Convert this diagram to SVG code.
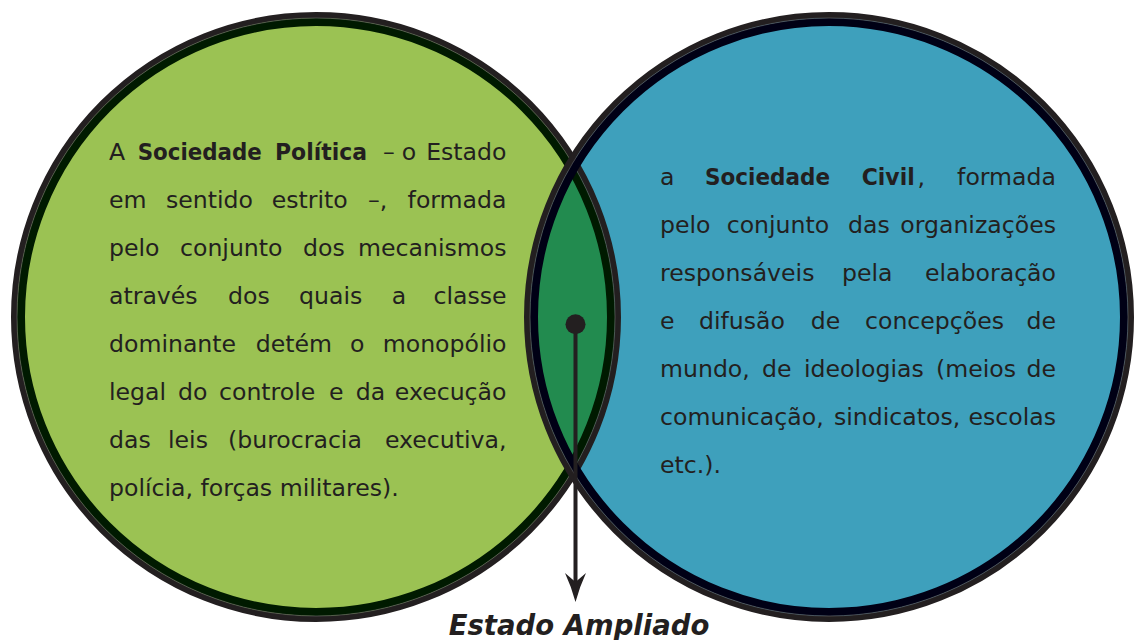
<svg xmlns="http://www.w3.org/2000/svg" width="1135" height="640" viewBox="0 0 1135 640">
  <style>
    .t { font-family: "DejaVu Sans", "Liberation Sans", sans-serif; font-size: 23.6px; fill: #231f20; }
    .b { font-weight: bold; }
    .e { text-anchor: end; }
    .outer { fill: none; stroke: #231f20; stroke-width: 6; }
    .sep { fill: none; stroke: #6f6f6f; stroke-width: 0.6; }
    .label { font-family: "DejaVu Sans", "Liberation Sans", sans-serif; font-size: 27.5px; font-weight: bold; font-style: italic; fill: #231f20; text-anchor: middle; }
  </style>
  <defs>
    <clipPath id="clipLeft"><circle cx="316" cy="317" r="299"/></clipPath>
    <marker id="arrow" viewBox="0 0 29 22" markerWidth="29" markerHeight="22" refX="9" refY="11" markerUnits="userSpaceOnUse" orient="auto">
      <path d="M0,0.5 Q14,7 29,11 Q14,15 0,21.5 L9,11 Z" fill="#231f20"/>
    </marker>
  </defs>
  <rect width="1135" height="640" fill="#ffffff"/>

  <g id="fills">
    <circle cx="316" cy="317" r="300" fill="#9bc253"/>
    <circle cx="829" cy="317" r="300" fill="#3ea0bc"/>
    <circle id="lens-fill" cx="829" cy="317" r="299" fill="#228b4f" clip-path="url(#clipLeft)"/>
  </g>

  <g id="sociedade-politica">
    <circle cx="316" cy="317" r="302" class="outer"/>
    <circle cx="316" cy="317" r="295" fill="none" stroke="#001a00" stroke-width="8"/>
    <circle cx="316" cy="317" r="299" class="sep"/>
    <text class="t" x="109" y="160">A</text>
    <text class="t b" x="137.7" y="160" textLength="124" lengthAdjust="spacingAndGlyphs">Sociedade</text>
    <text class="t b" x="275" y="160" textLength="92" lengthAdjust="spacingAndGlyphs">Política</text>
    <text class="t" y="160"><tspan x="383">–</tspan><tspan x="401.7">o</tspan></text>
    <text class="t e" x="506.5" y="160">Estado</text>

    <text class="t" y="208"><tspan x="109">em</tspan><tspan x="166">sentido</tspan><tspan x="271.7">estrito</tspan><tspan x="368">–,</tspan></text>
    <text class="t e" x="506.5" y="208">formada</text>

    <text class="t" y="256"><tspan x="109">pelo</tspan><tspan x="180">conjunto</tspan><tspan x="303">dos</tspan></text>
    <text class="t e" x="506.5" y="256">mecanismos</text>

    <text class="t" y="304"><tspan x="109">através</tspan><tspan x="228">dos</tspan><tspan x="299">quais</tspan><tspan x="391.7">a</tspan></text>
    <text class="t e" x="506.5" y="304">classe</text>

    <text class="t" y="352"><tspan x="109">dominante</tspan><tspan x="255.7">detém</tspan><tspan x="350">o</tspan></text>
    <text class="t e" x="506.5" y="352">monopólio</text>

    <text class="t" y="400"><tspan x="109">legal</tspan><tspan x="178">do</tspan><tspan x="219">controle</tspan><tspan x="329">e</tspan><tspan x="355.7">da</tspan></text>
    <text class="t e" x="506.5" y="400">execução</text>

    <text class="t" y="448"><tspan x="109">das</tspan><tspan x="168">leis</tspan><tspan x="228">(burocracia</tspan></text>
    <text class="t e" x="506.5" y="448">executiva,</text>

    <text class="t" x="109" y="496">polícia, forças militares).</text>
  </g>

  <g id="sociedade-civil">
    <circle cx="829" cy="317" r="302" class="outer"/>
    <circle cx="829" cy="317" r="295" fill="none" stroke="#000015" stroke-width="8"/>
    <circle cx="829" cy="317" r="299" class="sep"/>
    <text class="t" x="660" y="185">a</text>
    <text class="t b" x="705" y="185" textLength="125" lengthAdjust="spacingAndGlyphs">Sociedade</text>
    <text class="t b" x="861.7" y="185" textLength="53" lengthAdjust="spacingAndGlyphs">Civil</text>
    <text class="t" x="917.5" y="185">,</text>
    <text class="t e" x="1056" y="185">formada</text>

    <text class="t" y="233"><tspan x="660">pelo</tspan><tspan x="726.7">conjunto</tspan><tspan x="848">das</tspan></text>
    <text class="t e" x="1056" y="233">organizações</text>

    <text class="t" y="281"><tspan x="660">responsáveis</tspan><tspan x="842">pela</tspan></text>
    <text class="t e" x="1056" y="281">elaboração</text>

    <text class="t" y="329"><tspan x="660">e</tspan><tspan x="699">difusão</tspan><tspan x="810.7">de</tspan><tspan x="865">concepções</tspan></text>
    <text class="t e" x="1056" y="329">de</text>

    <text class="t" y="377"><tspan x="660">mundo,</tspan><tspan x="762">de</tspan><tspan x="804">ideologias</tspan><tspan x="936">(meios</tspan></text>
    <text class="t e" x="1056" y="377">de</text>

    <text class="t" y="425"><tspan x="660">comunicação,</tspan><tspan x="834">sindicatos,</tspan></text>
    <text class="t e" x="1056" y="425">escolas</text>

    <text class="t" x="660" y="473">etc.).</text>
  </g>

  <g id="connectors">
    <line x1="575.5" y1="324" x2="575.5" y2="582" stroke="#231f20" stroke-width="4" marker-end="url(#arrow)"/>
  </g>

  <g id="estado-ampliado">
    <circle cx="575.5" cy="324.3" r="10" fill="#231f20"/>
    <text class="label" x="579" y="635">Estado Ampliado</text>
  </g>
</svg>
